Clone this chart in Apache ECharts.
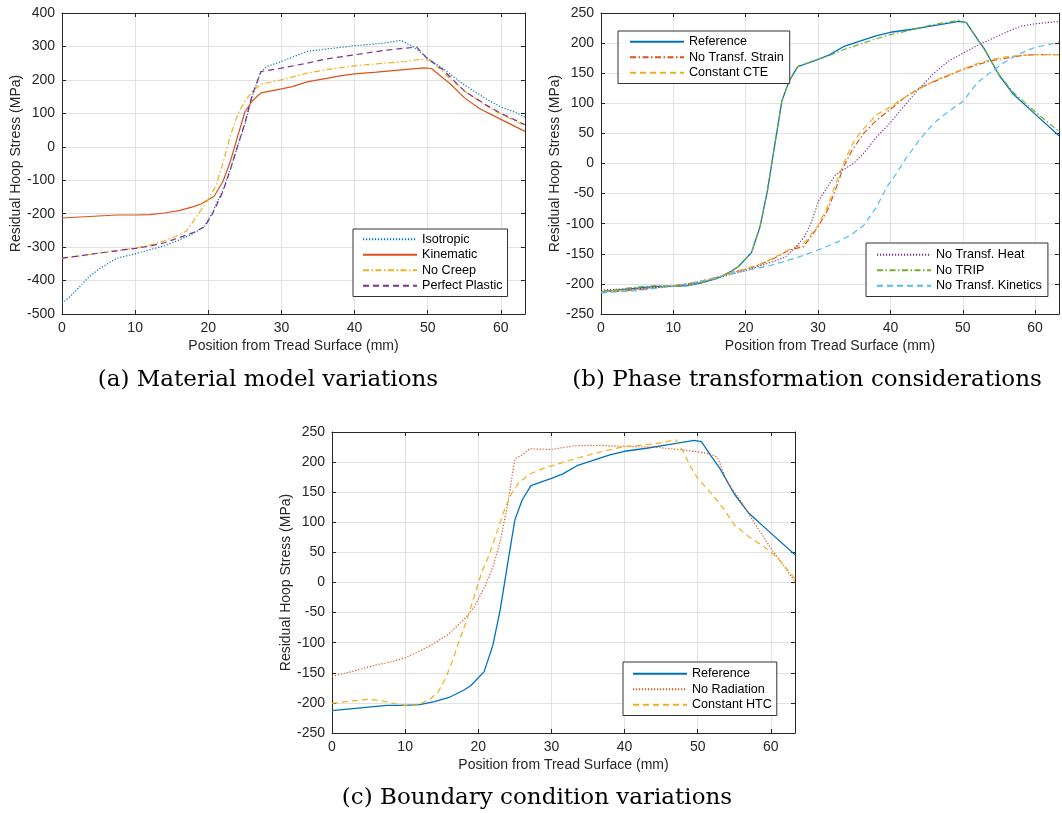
<!DOCTYPE html>
<html>
<head>
<meta charset="utf-8">
<script src="https://cdn.jsdelivr.net/npm/echarts@6/dist/echarts.min.js"></script>
<style>
html, body { margin: 0; padding: 0; background: #fff; }
#chart { width: 1062px; height: 813px; }
</style>
</head>
<body>
<div id="chart"></div>
<script>
// reference case (also the "Kinematic" curve in a)
var refX = [0, 2.5, 5, 7.5, 10, 12, 14, 16, 18, 19, 20.8, 22, 23, 24, 25, 26, 27.2, 30, 31.5, 33.5, 36, 38, 40, 43, 46, 49.5, 50.5, 52, 53, 55, 57, 60, 63.3];
var refY = [-213, -210, -207, -204, -204, -203, -198, -191, -179, -171, -148, -104, -45, 30, 104, 137, 161, 173, 180, 194, 204, 212, 218, 223, 229, 236, 234, 207, 190, 147, 115, 82, 46];

// (a) material model variations
var isoX = [0, 1, 2, 3.5, 5, 7.5, 10, 12, 14, 16, 18, 19.5, 20.5, 22, 23, 24, 25, 26, 27.2, 28, 30, 33.5, 36, 40, 44, 46.3, 48, 50, 52, 55, 58, 60, 62, 63.3];
var isoY = [-468, -450, -428, -393, -366, -333, -320, -308, -296, -279, -259, -237, -199, -129, -69, 1, 66, 150, 225, 240, 255, 285, 292, 302, 310, 318, 300, 265, 235, 185, 143, 119, 103, 89];
var ncX = [0, 2.5, 5, 7.5, 10, 12, 14, 16, 17, 18, 19, 20, 21, 22, 23, 24, 25, 26, 27.2, 30, 33.5, 36, 40, 44, 47, 49, 50.5, 52, 55, 58, 60, 63.3];
var ncY = [-333, -326, -318, -311, -303, -294, -281, -264, -252, -221, -189, -157, -119, -49, 31, 96, 136, 165, 187, 200, 220, 230, 242, 250, 255, 262, 258, 225, 167, 123, 98, 63];
var ppX = [0, 2.5, 5, 7.5, 10, 12, 14, 16, 18, 19.5, 20.5, 22, 23, 24, 25, 26, 27.2, 30, 33.5, 36, 40, 44, 46, 48.5, 50, 52, 55, 58, 60, 63.3];
var ppY = [-333, -326, -318, -311, -304, -297, -287, -272, -256, -239, -204, -134, -69, 1, 71, 155, 225, 235, 250, 262, 275, 288, 293, 298, 262, 232, 167, 125, 100, 66];

// (b) phase transformation considerations
var strainX = [0, 5, 10, 12, 14, 16, 18, 20, 22, 24, 26, 28, 29, 30, 31.3, 32.4, 33.5, 34.7, 36.3, 38.1, 40, 42, 44, 46, 48, 50, 52, 54, 56, 58, 60, 63.3];
var strainY = [-214, -210, -203, -200, -195, -189, -181, -176, -168, -157, -144, -138, -122, -105, -78, -44, -6, 22, 50, 72, 90, 110, 125, 136, 146, 156, 164, 171, 175, 179, 181, 181];
var cteX = [0, 5, 10, 12, 14, 16, 18, 20, 22, 24, 26, 28, 30, 31.3, 32.6, 33.8, 34.9, 36.3, 38.1, 40, 42, 44, 46, 48, 50, 52, 54, 56, 58, 60, 63.3];
var cteY = [-213, -209, -203, -200, -195, -189, -181, -175, -167, -156, -143, -133, -103, -72, -28, 8, 36, 58, 81, 94, 110, 124, 137, 147, 157, 166, 173, 177, 180, 181, 181];
var heatX = [0, 5, 10, 12, 14, 16, 18, 20, 22, 24, 25.4, 27, 28.1, 29, 30.1, 31.3, 32.4, 33.8, 34.9, 36.3, 38.1, 40, 42, 44, 46, 48, 50, 52, 54, 56, 58, 60, 63.3];
var heatY = [-210, -208, -204, -201, -197, -191, -184, -178, -170, -162, -156, -138, -122, -100, -61, -39, -19, -8, 0, 17, 44, 68, 97, 125, 150, 170, 183, 196, 207, 218, 228, 232, 236];
var tripY = [-213, -209, -205, -203, -204, -203, -198, -191, -179, -171, -148, -104, -45, 30, 104, 137, 161, 173, 179, 189, 199, 207, 214, 222, 231, 238, 234, 207, 190, 148, 118, 86, 53];
var kinX = [0, 5, 10, 15, 18, 20, 23.5, 27.2, 29.9, 32.6, 34.5, 36.3, 38.1, 39.5, 40.8, 42, 44, 46, 48, 50, 52, 54, 56, 58, 60, 63.3];
var kinY = [-215, -211, -204, -193, -183, -178, -169, -156, -144, -131, -119, -103, -72, -39, -17, 6, 39, 67, 86, 103, 134, 153, 170, 183, 193, 201];

// (c) boundary condition variations
var radX = [0, 3, 6, 8, 10, 12, 14, 16, 18, 19.5, 21, 22, 23, 24, 25, 26, 27, 30, 33, 36, 40, 44, 48, 50, 51.5, 52.7, 54, 56, 57, 60, 62, 63.3];
var radY = [-156, -147, -137, -132, -125, -114, -101, -85, -62, -40, -4, 26, 68, 129, 205, 212, 222, 221, 227, 228, 226, 225, 220, 217, 214, 208, 168, 133, 113, 57, 24, 1];
var htcX = [0, 2.5, 5, 7, 9, 10.5, 12, 13.5, 14.5, 15.5, 16.5, 17.5, 18.5, 19.5, 20.5, 21.5, 22.5, 23.5, 24.5, 25.5, 27, 29, 32, 36, 40, 44, 47, 48, 49, 50, 52, 53.5, 55, 57, 59, 61, 63.3];
var htcY = [-201, -197, -194, -197, -202, -205, -202, -193, -182, -160, -129, -93, -60, -21, 18, 46, 82, 118, 147, 165, 180, 190, 201, 215, 226, 230, 237, 218, 193, 173, 146, 123, 96, 76, 60, 40, 6];

function zip(xs, ys) {
  return xs.map(function (x, i) { return [x, ys[i]]; });
}

var C = {
  blue: '#0072BD', orange: '#D95319', yellow: '#EDB120',
  purple: '#7E2F8E', green: '#77AC30', cyan: '#4DBEEE'
};
var DOT = [1.2, 1.8], DASH = [6, 4], DASHDOT = [6, 2.5, 1.5, 2.5];

var axisColor = '#262626';
var sans = 'Liberation Sans';
var axisText = { color: axisColor, fontSize: 14, fontFamily: sans };

var grids = [
  { left: 62, top: 13, width: 463, height: 301 },
  { left: 601, top: 13, width: 464, height: 301 },
  { left: 332, top: 432, width: 463, height: 301 }
];
var yRanges = [[-500, 400, 100], [-250, 250, 50], [-250, 250, 50]];

var xAxes = [], yAxes = [];
grids.forEach(function (g, i) {
  var line = { show: true, onZero: false, lineStyle: { color: axisColor, width: 1 } };
  var tick = { show: true, inside: true, length: 4, lineStyle: { color: axisColor } };
  xAxes.push({
    gridIndex: i, type: 'value', min: 0, max: 63.3, interval: 10, position: 'bottom',
    axisLine: line, axisTick: tick,
    axisLabel: Object.assign({ margin: 7, formatter: function (v) { return v % 10 === 0 ? v : ''; } }, axisText),
    splitLine: { show: true, lineStyle: { color: '#e2e2e2' } },
    name: 'Position from Tread Surface (mm)', nameLocation: 'middle', nameGap: 25,
    nameTextStyle: axisText
  });
  xAxes.push({
    gridIndex: i, type: 'value', min: 0, max: 63.3, interval: 10, position: 'top',
    axisLine: line, axisTick: tick, axisLabel: { show: false }, splitLine: { show: false }
  });
  var r = yRanges[i];
  yAxes.push({
    gridIndex: i, type: 'value', min: r[0], max: r[1], interval: r[2], position: 'left',
    axisLine: line, axisTick: tick,
    axisLabel: Object.assign({ margin: 7 }, axisText),
    splitLine: { show: true, lineStyle: { color: '#e2e2e2' } },
    name: 'Residual Hoop Stress (MPa)', nameLocation: 'middle', nameGap: 39,
    nameTextStyle: axisText
  });
  yAxes.push({
    gridIndex: i, type: 'value', min: r[0], max: r[1], interval: r[2], position: 'right',
    axisLine: line, axisTick: tick, axisLabel: { show: false }, splitLine: { show: false }
  });
});

function line(name, plot, xs, ys, color, dash, width) {
  return {
    name: name, type: 'line', xAxisIndex: plot * 2, yAxisIndex: plot * 2,
    data: zip(xs, ys), symbol: 'none', animation: false,
    lineStyle: { color: color, width: width || 1.2, type: dash || 'solid' },
    itemStyle: { color: color, opacity: 0 }
  };
}

var series = [
  line('Isotropic', 0, isoX, isoY, C.blue, DOT),
  line('Kinematic', 0, refX, refY, C.orange),
  line('No Creep', 0, ncX, ncY, C.yellow, DASHDOT),
  line('Perfect Plastic', 0, ppX, ppY, C.purple, DASH),

  line('Reference', 1, refX, refY, C.blue, null, 1.3),
  line('No Transf. Strain', 1, strainX, strainY, C.orange, DASHDOT),
  line('Constant CTE', 1, cteX, cteY, C.yellow, DASH),
  line('No Transf. Heat', 1, heatX, heatY, C.purple, DOT),
  line('No TRIP', 1, refX, tripY, C.green, DASHDOT),
  line('No Transf. Kinetics', 1, kinX, kinY, C.cyan, DASH),

  line('Reference', 2, refX, refY, C.blue, null, 1.3),
  line('No Radiation', 2, radX, radY, C.orange, DOT),
  line('Constant HTC', 2, htcX, htcY, C.yellow, DASH)
];

function legend(names, left, top, padding) {
  return {
    data: names, orient: 'vertical', left: left, top: top, padding: padding,
    itemWidth: 54, itemHeight: 12, itemGap: 0,
    itemStyle: { opacity: 0 },
    backgroundColor: '#fff', borderColor: '#333', borderWidth: 1, borderRadius: 0,
    textStyle: { color: '#000', fontSize: 12.6, fontFamily: sans, lineHeight: 15.5 },
    selectedMode: false
  };
}

var serif = 'DejaVu Serif';
function caption(text, x, y) {
  return {
    type: 'text', x: x, y: y,
    style: { text: text, fill: '#000', font: '23px "' + serif + '"', align: 'center', verticalAlign: 'middle' }
  };
}

var chart = echarts.init(document.getElementById('chart'));
chart.setOption({
  backgroundColor: '#fff',
  animation: false,
  grid: grids,
  xAxis: xAxes,
  yAxis: yAxes,
  legend: [
    legend(['Isotropic', 'Kinematic', 'No Creep', 'Perfect Plastic'], 353, 229, [2.5, 5, 3, 9]),
    legend(['Reference', 'No Transf. Strain', 'Constant CTE'], 618, 31, [3, 6, 3, 11]),
    legend(['No Transf. Heat', 'No TRIP', 'No Transf. Kinetics'], 866, 243, [4, 6, 3, 10]),
    legend(['Reference', 'No Radiation', 'Constant HTC'], 623, 662, [4, 5, 3, 9])
  ],
  series: series,
  graphic: [
    caption('(a) Material model variations', 268, 380),
    caption('(b) Phase transformation considerations', 807, 380),
    caption('(c) Boundary condition variations', 537, 798)
  ]
});
</script>
</body>
</html>
